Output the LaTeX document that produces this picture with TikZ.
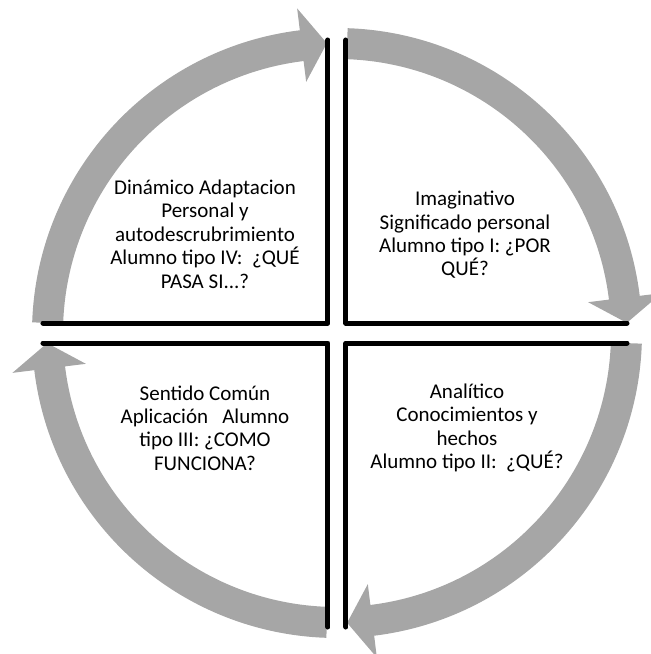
\documentclass[tikz,border=0pt]{standalone}
\usepackage{fontspec}
\setmainfont{Carlito}
\definecolor{arrowgray}{HTML}{A6A6A6}
\begin{document}
\begin{tikzpicture}[x=1pt,y=1pt,
  quadline/.style={line width=5pt,line join=round,line cap=round,black},
  cyclearrow/.style={fill=arrowgray,draw=none},
  quadtext/.style={align=center,font=\fontsize{21}{23.4}\selectfont,inner sep=0pt}]
\useasboundingbox (-337,-321) rectangle (314,333);
% gray cycle arrows
\foreach \r in {0,-90,-180,-270}{
  \begin{scope}[rotate=\r]
    \path[cyclearrow] (178:305pt) arc[start angle=178,end angle=97,radius=305pt]
      -- (97:327pt) -- (92:290pt) -- (97:253pt) -- (97:274pt)
      arc[start angle=97,end angle=178,radius=274pt] -- cycle;
  \end{scope}
}
% quadrant lines
\coordinate (tla) at (-294,10); \coordinate (tlb) at (-9,10); \coordinate (tlc) at (-9,293);
\coordinate (tra) at (9,293); \coordinate (trb) at (9,10); \coordinate (trc) at (290,10);
\coordinate (bla) at (-294,-10); \coordinate (blb) at (-9,-10); \coordinate (blc) at (-9,-294);
\coordinate (bra) at (9,-294); \coordinate (brb) at (9,-10); \coordinate (brc) at (290,-10);
\draw[quadline] (tla) -- (tlb) -- (tlc);
\draw[quadline] (tra) -- (trb) -- (trc);
\draw[quadline] (bla) -- (blb) -- (blc);
\draw[quadline] (bra) -- (brb) -- (brc);
% texts
\node[quadtext] (tl) at (-132,99) {Dinámico Adaptacion\\Personal y\\autodescrubrimiento\\Alumno tipo IV:\ \ ¿QUÉ\\PASA SI...?};
\node[quadtext] (tr) at (128,98) {Imaginativo\\Significado personal\\Alumno tipo I: ¿POR\\QUÉ?};
\node[quadtext] (bl) at (-132,-95) {Sentido Común\\Aplicación\ \ \ Alumno\\tipo III: ¿COMO\\FUNCIONA?};
\node[quadtext] (br) at (130,-95) {Analítico\\Conocimientos y\\hechos\\Alumno tipo II:\ \ ¿QUÉ?};
\end{tikzpicture}
\end{document}
